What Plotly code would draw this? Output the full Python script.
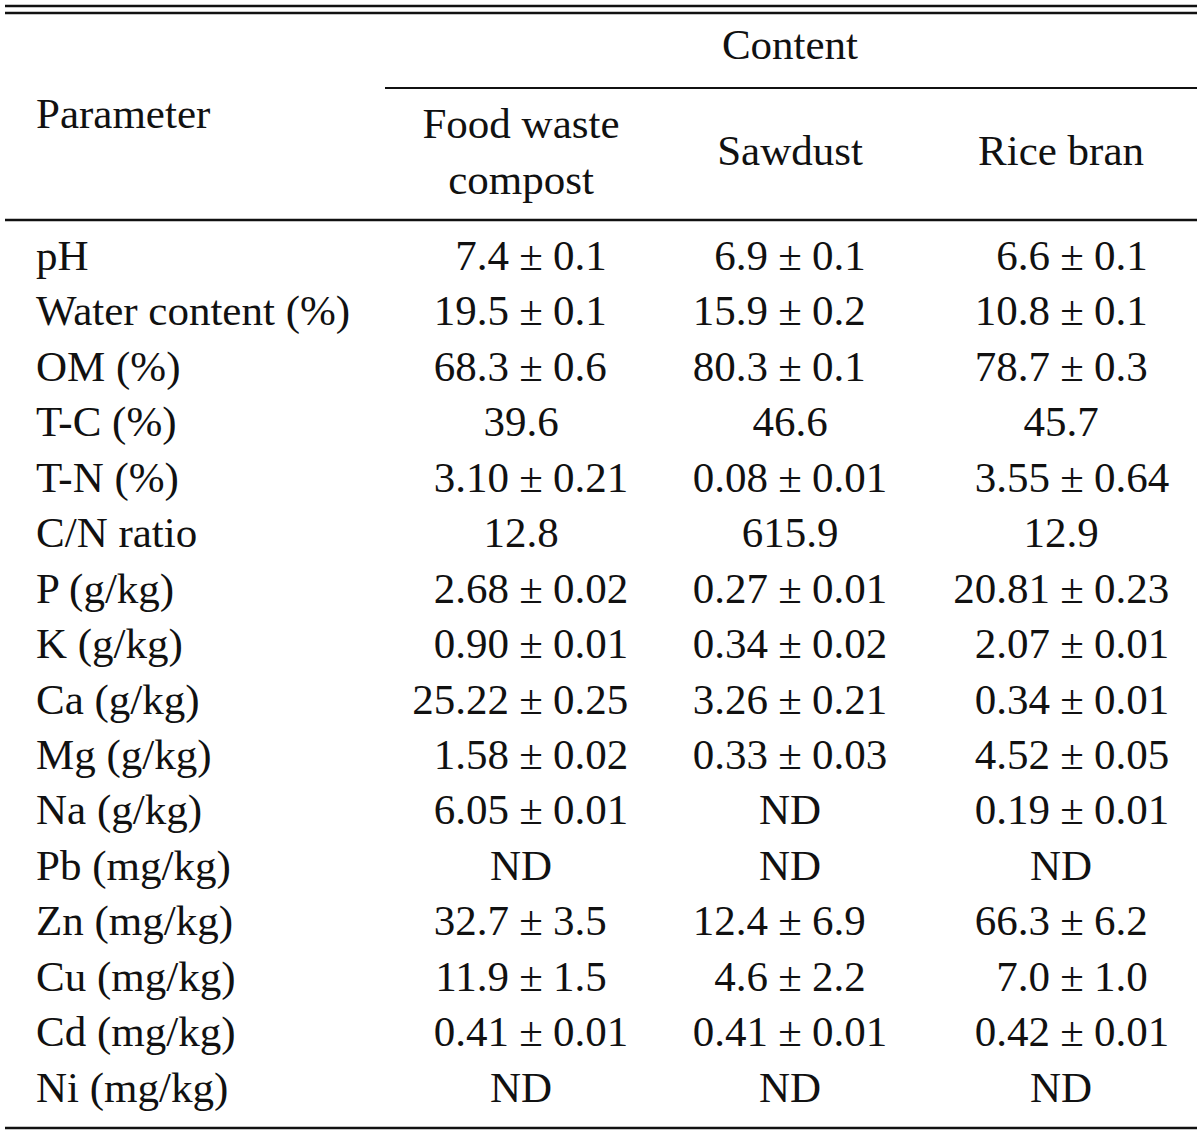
import plotly.graph_objects as go

# ---------------- data ----------------
parameters = ["pH", "Water content (%)", "OM (%)", "T-C (%)", "T-N (%)", "C/N ratio",
              "P (g/kg)", "K (g/kg)", "Ca (g/kg)", "Mg (g/kg)", "Na (g/kg)",
              "Pb (mg/kg)", "Zn (mg/kg)", "Cu (mg/kg)", "Cd (mg/kg)", "Ni (mg/kg)"]
food_waste_compost = ["7.4 ± 0.1", "19.5 ± 0.1", "68.3 ± 0.6", "39.6", "3.10 ± 0.21", "12.8",
                      "2.68 ± 0.02", "0.90 ± 0.01", "25.22 ± 0.25", "1.58 ± 0.02", "6.05 ± 0.01",
                      "ND", "32.7 ± 3.5", "11.9 ± 1.5", "0.41 ± 0.01", "ND"]
sawdust = ["6.9 ± 0.1", "15.9 ± 0.2", "80.3 ± 0.1", "46.6", "0.08 ± 0.01", "615.9",
           "0.27 ± 0.01", "0.34 ± 0.02", "3.26 ± 0.21", "0.33 ± 0.03", "ND",
           "ND", "12.4 ± 6.9", "4.6 ± 2.2", "0.41 ± 0.01", "ND"]
rice_bran = ["6.6 ± 0.1", "10.8 ± 0.1", "78.7 ± 0.3", "45.7", "3.55 ± 0.64", "12.9",
             "20.81 ± 0.23", "2.07 ± 0.01", "0.34 ± 0.01", "4.52 ± 0.05", "0.19 ± 0.01",
             "ND", "66.3 ± 6.2", "7.0 ± 1.0", "0.42 ± 0.01", "ND"]
column_headers = ["Food waste<br>compost", "Sawdust", "Rice bran"]
group_header = "Content"
stub_header = "Parameter"

# ---------------- layout constants ----------------
W, H = 1200, 1134
FONT = "Liberation Serif"
FS = 43
COLOR = "#111111"
LEFT = 5
RIGHT = 1197
PARAM_X = 36
ROW_Y0 = 259
ROW_H = 55.47
COL_CENTER = [521, 790, 1061]
COL_PM = [531, 790, 1072]
PM_GAP_L = 22
PM_GAP_R = 22

fig = go.Figure()
font = dict(family=FONT, size=FS, color=COLOR)

row_y = [ROW_Y0 + i * ROW_H for i in range(len(parameters))]

# parameter names
fig.add_trace(go.Scatter(x=[PARAM_X] * len(parameters), y=row_y, text=parameters,
                         mode="text", textposition="middle right", textfont=font,
                         hoverinfo="skip", showlegend=False))

for col, values in enumerate([food_waste_compost, sawdust, rice_bran]):
    pm_rows = [i for i, v in enumerate(values) if "±" in v]
    plain_rows = [i for i, v in enumerate(values) if "±" not in v]
    lefts = [values[i].split("±")[0].strip() for i in pm_rows]
    rights = [values[i].split("±")[1].strip() for i in pm_rows]
    pm_y = [row_y[i] for i in pm_rows]
    fig.add_trace(go.Scatter(x=[COL_PM[col] - PM_GAP_L] * len(pm_rows), y=pm_y, text=lefts,
                             mode="text", textposition="middle left", textfont=font,
                             hoverinfo="skip", showlegend=False))
    fig.add_trace(go.Scatter(x=[COL_PM[col]] * len(pm_rows), y=pm_y, text=["±"] * len(pm_rows),
                             mode="text", textposition="middle center", textfont=font,
                             hoverinfo="skip", showlegend=False))
    fig.add_trace(go.Scatter(x=[COL_PM[col] + PM_GAP_R] * len(pm_rows), y=pm_y, text=rights,
                             mode="text", textposition="middle right", textfont=font,
                             hoverinfo="skip", showlegend=False))
    fig.add_trace(go.Scatter(x=[COL_CENTER[col]] * len(plain_rows), y=[row_y[i] for i in plain_rows],
                             text=[values[i] for i in plain_rows],
                             mode="text", textposition="middle center", textfont=font,
                             hoverinfo="skip", showlegend=False))

# headers
fig.add_trace(go.Scatter(x=[790], y=[48], text=[group_header], mode="text",
                         textposition="middle center", textfont=font, hoverinfo="skip", showlegend=False))
fig.add_trace(go.Scatter(x=[PARAM_X], y=[117], text=[stub_header], mode="text",
                         textposition="middle right", textfont=font, hoverinfo="skip", showlegend=False))
fig.add_trace(go.Scatter(x=COL_CENTER, y=[155, 154, 154], text=column_headers, mode="text",
                         textposition="middle center", textfont=font, hoverinfo="skip", showlegend=False))

# rules
def hline(x0, x1, y, w):
    fig.add_shape(type="line", xref="x", yref="y", x0=x0, x1=x1, y0=y, y1=y,
                  line=dict(color=COLOR, width=w))

hline(LEFT, RIGHT, 6, 2.5)
hline(LEFT, RIGHT, 13, 2.5)
hline(385, RIGHT, 88, 1.8)
hline(LEFT, RIGHT, 220, 2.5)
hline(LEFT, RIGHT, 1128, 2.5)

fig.update_layout(
    width=W, height=H,
    margin=dict(l=0, r=0, t=0, b=0),
    paper_bgcolor="white", plot_bgcolor="white",
    xaxis=dict(range=[0, W], visible=False, fixedrange=True),
    yaxis=dict(range=[H, 0], visible=False, fixedrange=True),
)

fig.write_html("out.html", config={"displayModeBar": False},
               post_script="document.body.style.margin='0';document.body.style.overflow='hidden';")
